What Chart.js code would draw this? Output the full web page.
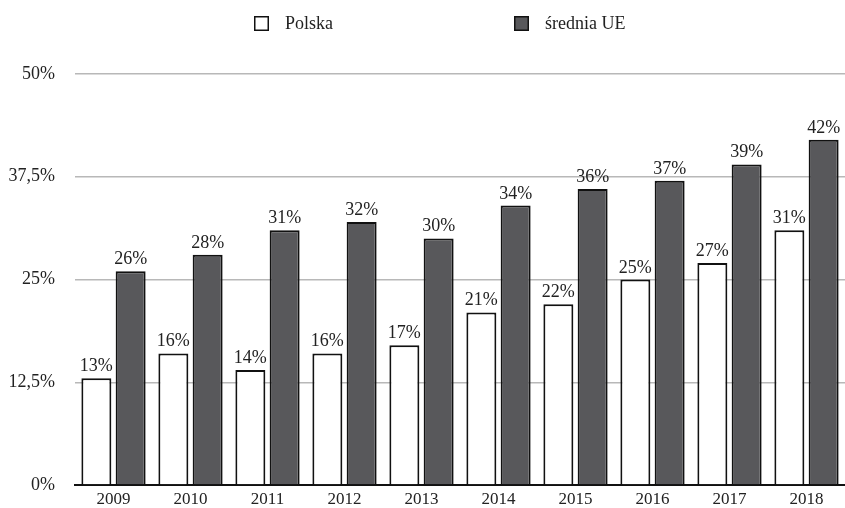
<!DOCTYPE html>
<html>
<head>
<meta charset="utf-8">
<script src="https://cdn.jsdelivr.net/npm/chart.js@4"></script>
<style>
  html, body { margin: 0; padding: 0; background: #fff; overflow: hidden; }
  canvas { display: block; }
</style>
</head>
<body>
<canvas id="chart" width="845" height="508"></canvas>
<script>
const years = ['2009', '2010', '2011', '2012', '2013', '2014', '2015', '2016', '2017', '2018'];
const polska = [13, 16, 14, 16, 17, 21, 22, 25, 27, 31];
const sredniaUE = [26, 28, 31, 32, 30, 34, 36, 37, 39, 42];
const seriesNames = ['Polska', 'średnia UE'];
const yTicks = [0, 12.5, 25, 37.5, 50];

const FONT = '"Liberation Serif", "Times New Roman", serif';

function pct(v) {
  return String(v).replace('.', ',') + '%';
}

// values above the bars
const barLabels = {
  id: 'barLabels',
  afterDatasetsDraw(chart) {
    const ctx = chart.ctx;
    ctx.save();
    ctx.font = '18px ' + FONT;
    ctx.fillStyle = '#222';
    ctx.textAlign = 'center';
    ctx.textBaseline = 'alphabetic';
    chart.data.datasets.forEach((ds, i) => {
      chart.getDatasetMeta(i).data.forEach((bar, j) => {
        ctx.fillText(ds.data[j] + '%', bar.x, bar.y - 7);
      });
    });
    ctx.restore();
  }
};

// legend at the top, spread out like the original
const topLegend = {
  id: 'topLegend',
  afterDraw(chart) {
    const ctx = chart.ctx;
    const xs = [254, 514];
    ctx.save();
    ctx.font = '18px ' + FONT;
    ctx.textBaseline = 'middle';
    ctx.textAlign = 'left';
    chart.data.datasets.forEach((ds, i) => {
      const x = xs[i];
      ctx.fillStyle = ds.backgroundColor;
      ctx.fillRect(x, 16, 15, 15);
      ctx.lineWidth = 1.5;
      ctx.strokeStyle = '#111';
      ctx.strokeRect(x + 0.75, 16.75, 13.5, 13.5);
      ctx.fillStyle = '#222';
      ctx.fillText(ds.label, x + 31, 24);
    });
    ctx.restore();
  }
};

new Chart(document.getElementById('chart'), {
  type: 'bar',
  data: {
    labels: years,
    datasets: [
      {
        label: seriesNames[0],
        data: polska,
        backgroundColor: '#ffffff',
        borderColor: '#111',
        borderWidth: 2,
        barPercentage: 0.875,
        categoryPercentage: 0.89
      },
      {
        label: seriesNames[1],
        data: sredniaUE,
        backgroundColor: '#58585b',
        borderColor: '#111',
        borderWidth: 2,
        barPercentage: 0.875,
        categoryPercentage: 0.89
      }
    ]
  },
  options: {
    responsive: false,
    animation: false,
    layout: { padding: { top: 74, left: 0, right: 0, bottom: 0 } },
    plugins: {
      legend: { display: false },
      tooltip: { enabled: false }
    },
    scales: {
      x: {
        afterFit(scale) {
          scale.height = 23;
        },
        grid: { display: false, drawTicks: false },
        border: { display: true, color: '#111', width: 2 },
        ticks: { color: '#222', font: { family: FONT, size: 17 }, padding: 4 }
      },
      y: {
        min: 0,
        max: 50,
        afterBuildTicks(scale) {
          scale.ticks = yTicks.map(v => ({ value: v }));
        },
        afterFit(scale) {
          // tick padding is horizontal only here, don't let it eat vertical space
          scale.width = 75;
          scale.paddingTop = 10;
          scale.paddingBottom = 10;
        },
        grid: { color: '#b8b8b8', lineWidth: 1.5, drawTicks: false },
        border: { display: false },
        ticks: {
          color: '#222',
          font: { family: FONT, size: 18 },
          padding: 20,
          callback: v => pct(v)
        }
      }
    }
  },
  plugins: [barLabels, topLegend]
});
</script>
</body>
</html>
